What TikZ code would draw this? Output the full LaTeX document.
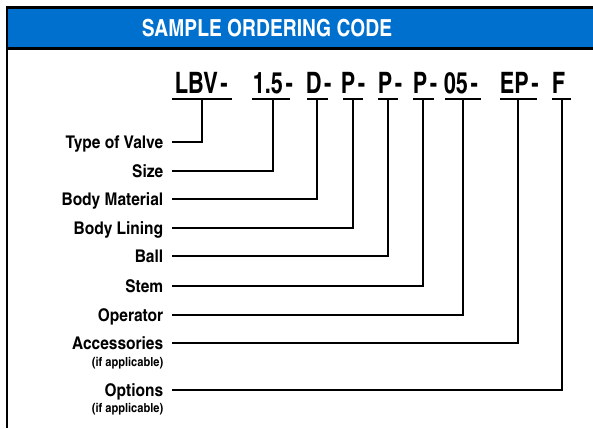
\documentclass[tikz,border=0pt]{standalone}
\usepackage{fontspec}
\usepackage{xcolor}
\usetikzlibrary{positioning}
\newfontfamily\heroscn{TeX Gyre Heros Cn}
\newfontfamily\heroscnwide{TeX Gyre Heros Cn}[FakeStretch=1.08]
\newfontfamily\heroscnslim{TeX Gyre Heros Cn}[FakeStretch=0.9]
\newcommand\dsh{\hspace{2.5pt}-}
\definecolor{headblue}{RGB}{0,112,206}

\begin{document}
\begin{tikzpicture}[x=1pt,y=-1pt,line width=1.6pt]
    \tikzstyle{code}=[font=\heroscnslim\bfseries\fontsize{29.5}{30}\selectfont, inner sep=0pt, anchor=base west]
    \tikzstyle{field}=[font=\heroscnwide\bfseries\fontsize{17.5}{18}\selectfont, inner ysep=0pt, inner xsep=8pt, text height=12.5pt, text depth=0pt, anchor=east]
    \tikzstyle{note}=[font=\heroscnwide\bfseries\fontsize{12.5}{13}\selectfont, inner ysep=0pt, inner xsep=8pt, anchor=north east]
    \tikzstyle{rule}=[draw=black, line width=1.6pt]

    \useasboundingbox (0,0) rectangle (593,428);

    % header bar
    \fill[headblue] (7,7.5) rectangle (593,48.5);
    \draw[line width=2.5pt] (7,7.5) -- (593,7.5);
    \draw[line width=2.5pt] (7,48.5) -- (593,48.5);
    \draw[line width=2.5pt] (7,6.25) -- (7,428);
    \node[font=\heroscn\bfseries\fontsize{23.5}{24}\selectfont, text=white] (title) at (267,28) {SAMPLE ORDERING CODE};

    % code segments with underline and tick point
    \foreach \n/\txt/\xa/\xb/\xt/\xs in {1/LBV\dsh/172/232/202/174, 2/1.5\dsh/252/290/273/252, 3/D\dsh/307/328/317/305,
        4/P\dsh/343/363/353/340, 5/P\dsh/378/398/388/377, 6/P\dsh/413/434/423/412, 7/05\dsh/445/481/463/443,
        8/EP\dsh/500/537/518/499, 9/F/552/571/562/551}{
        \node[code] (C-\n) at (\xs,93) {\txt};
        \draw[rule] (\xa,99) -- (\xb,99);
        \coordinate (T-\n) at (\xt,99);
    }

    % field names
    \foreach \n/\txt/\y in {1/Type of Valve/142, 2/Size/171, 3/Body Material/199, 4/Body Lining/228,
        5/Ball/256, 6/Stem/286, 7/Operator/315, 8/Accessories/343, 9/Options/390}{
        \node[field] (F-\n) at (172,\y) {\txt};
        \draw[rule] (F-\n.east) -| (T-\n);
    }

    \node[note] (N-8) at ([yshift=-6pt]F-8.south east) {(if applicable)};
    \node[note] (N-9) at ([yshift=-5pt]F-9.south east) {(if applicable)};
\end{tikzpicture}
\end{document}
